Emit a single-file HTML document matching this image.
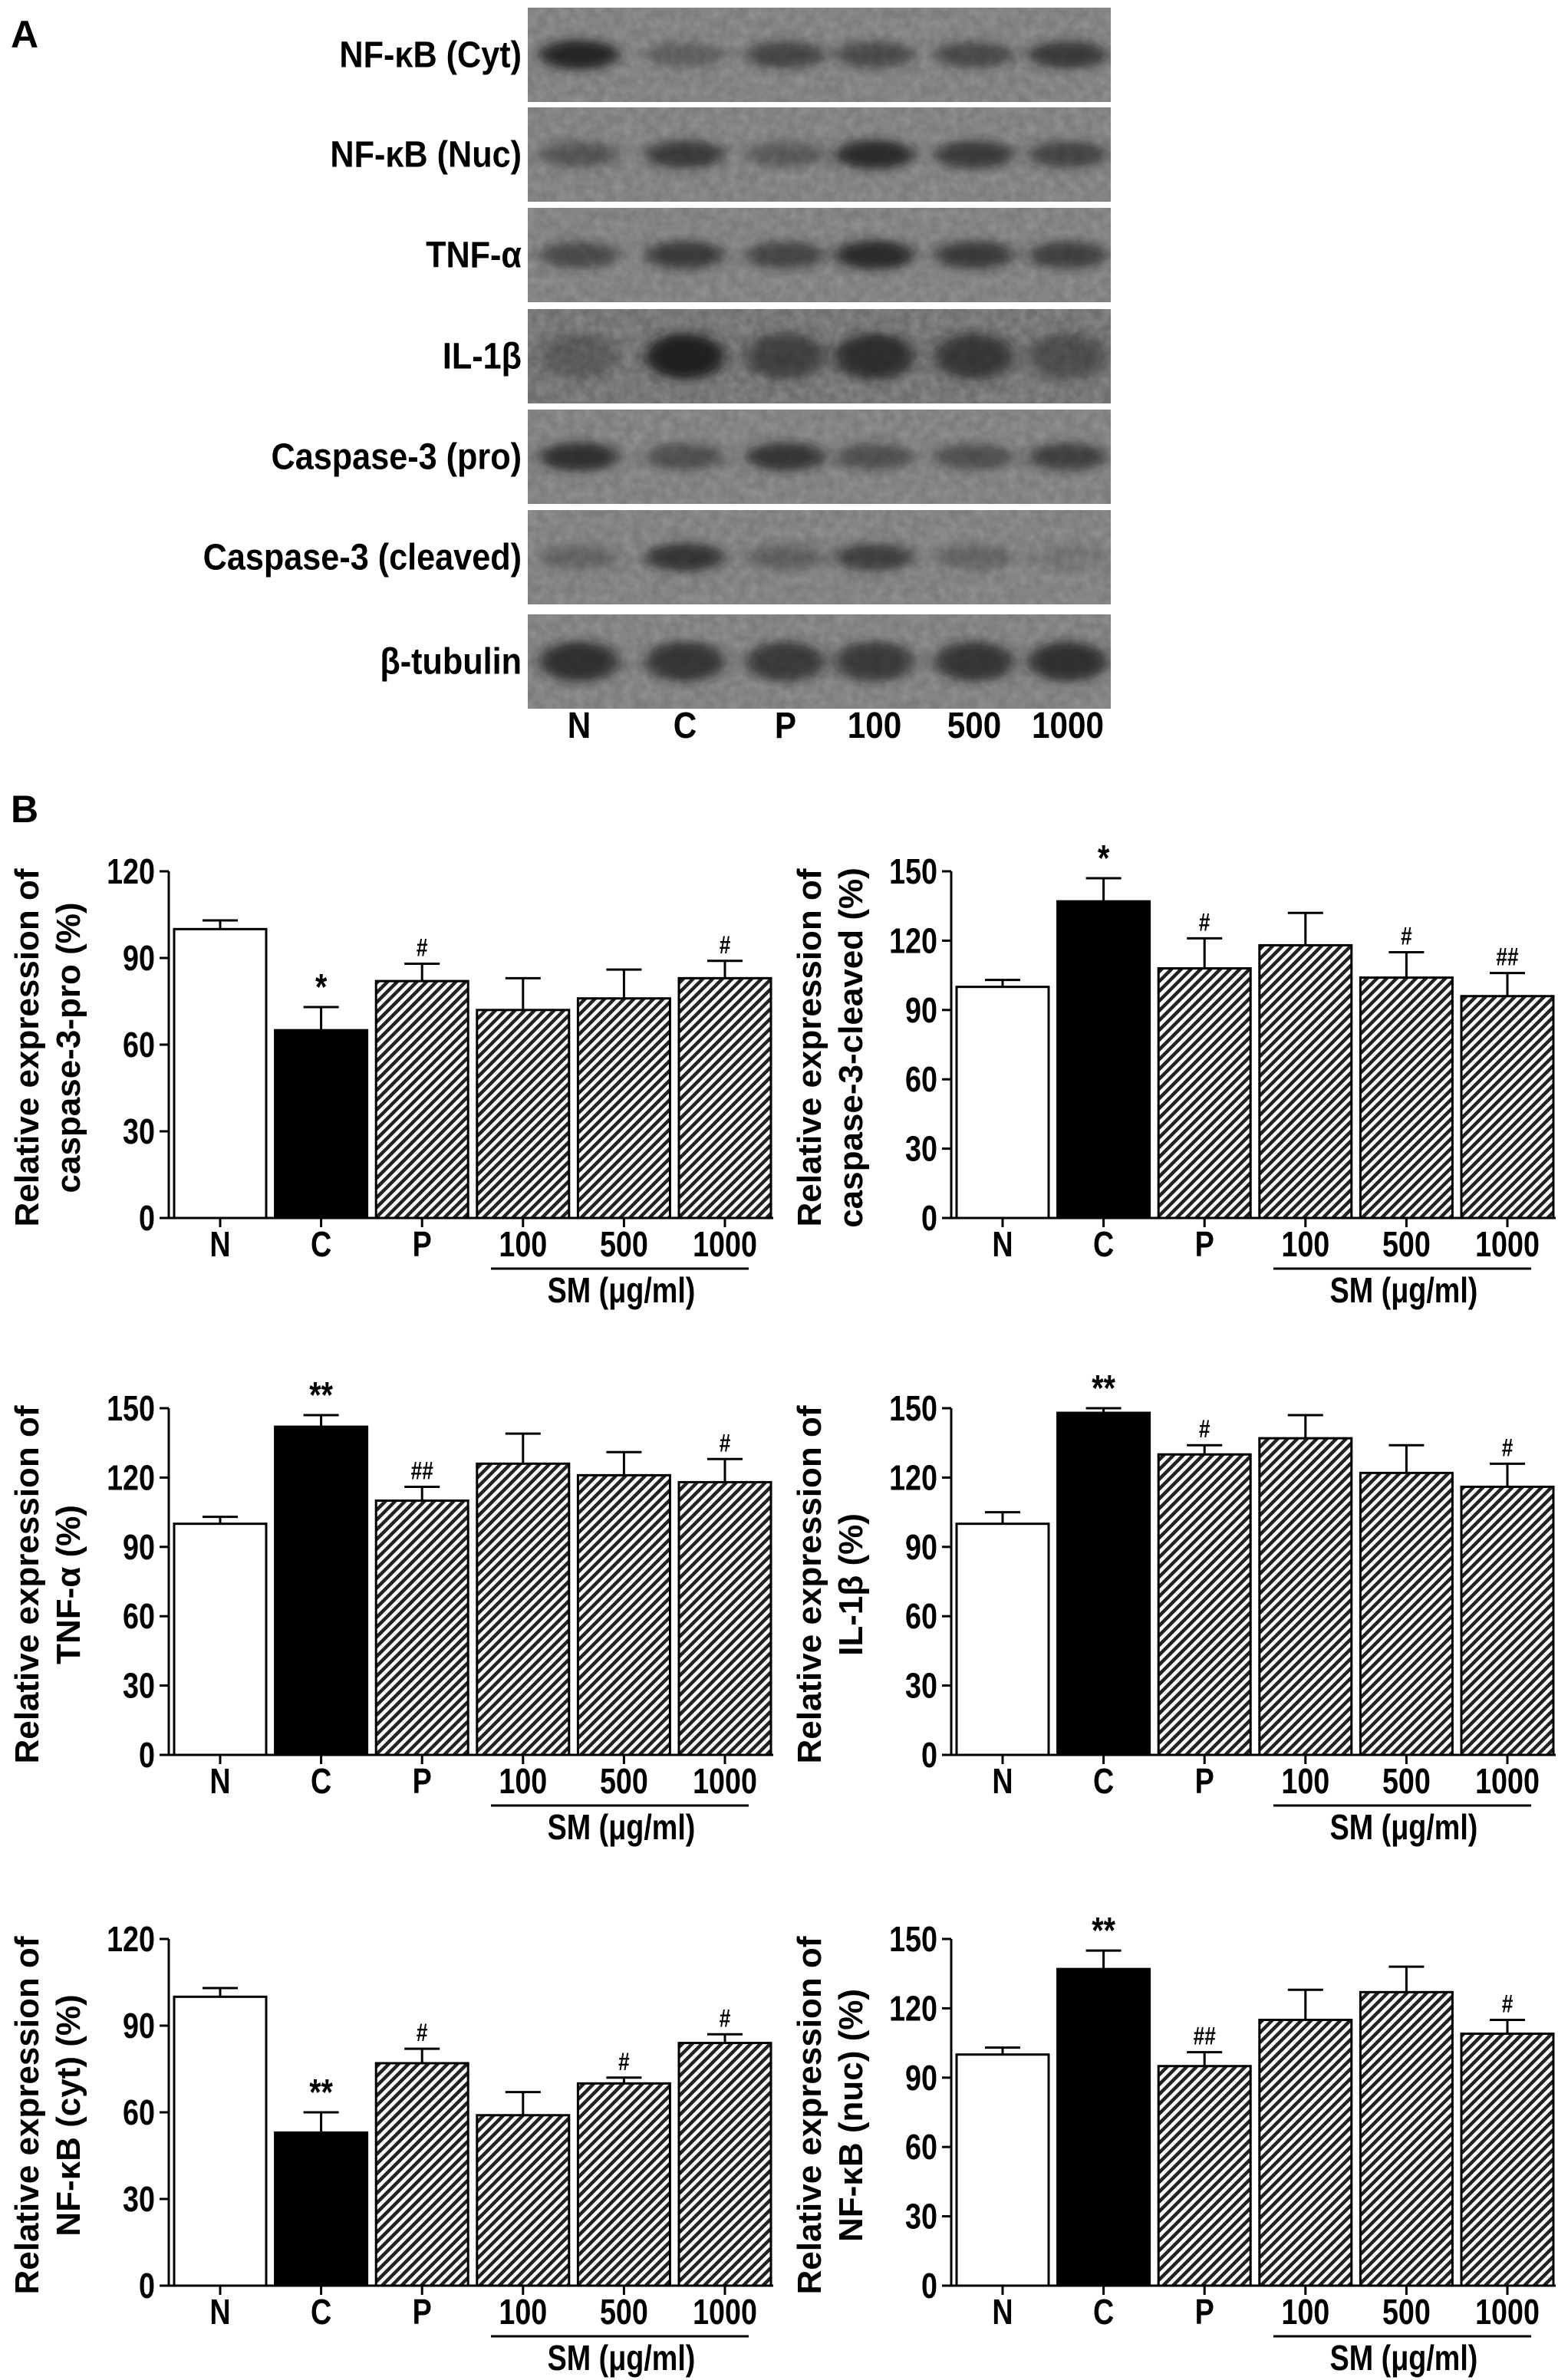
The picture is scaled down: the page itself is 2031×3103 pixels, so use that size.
<!DOCTYPE html>
<html><head><meta charset="utf-8"><style>
html,body{margin:0;padding:0;background:#fff;}
svg{display:block;}
.t{font-family:"Liberation Sans",sans-serif;font-weight:bold;fill:#000;}
.w{font-family:"Liberation Sans",sans-serif;font-weight:bold;fill:#000;}
</style></head><body>
<svg id="fig" width="2031" height="3103" viewBox="0 0 2031 3103" xmlns="http://www.w3.org/2000/svg">
<defs>
<pattern id="hatch" patternUnits="userSpaceOnUse" width="9" height="9" patternTransform="rotate(-45)">
<rect width="9" height="9" fill="#fff"/><rect width="9" height="4.5" fill="#222"/>
</pattern>
<filter id="blur" x="-30%" y="-100%" width="160%" height="300%"><feGaussianBlur stdDeviation="9 6"/></filter>
<filter id="noise" x="0" y="0" width="100%" height="100%"><feTurbulence type="fractalNoise" baseFrequency="0.08" numOctaves="2" seed="3"/><feColorMatrix type="matrix" values="0 0 0 0 0.45  0 0 0 0 0.45  0 0 0 0 0.45  0 0 0 -1.2 0.9"/></filter>
</defs>
<text class="w" x="14" y="62" font-size="50">A</text>
<text class="w" x="14" y="1072" font-size="50">B</text>
<g id="blot"></g>
<g id="charts"></g>
</svg>
<script>
const NS='http://www.w3.org/2000/svg';
function mk(tag,attrs,parent,txt){const e=document.createElementNS(NS,tag);for(const k in attrs)e.setAttribute(k,attrs[k]);if(txt!==undefined)e.textContent=txt;parent.appendChild(e);return e;}
function ct(parent,x,y,anchor,size,str,sx){return mk('text',{x:0,y:0,'text-anchor':anchor,'font-size':size,class:'t',transform:`translate(${x},${y}) scale(${sx||0.82},1)`},parent,str);}

// ---------- Western blot ----------
const blotLabels=['NF-κB (Cyt)','NF-κB (Nuc)','TNF-α','IL-1β','Caspase-3 (pro)','Caspase-3 (cleaved)','β-tubulin'];
const laneLabels=['N','C','P','100','500','1000'];
const bandIntensity=[
 [0.9,0.35,0.6,0.55,0.55,0.7],
 [0.45,0.7,0.4,0.85,0.7,0.6],
 [0.55,0.7,0.6,0.85,0.7,0.65],
 [0.3,0.95,0.6,0.8,0.7,0.45],
 [0.8,0.5,0.75,0.5,0.5,0.65],
 [0.3,0.75,0.35,0.65,0.3,0.15],
 [0.8,0.75,0.7,0.7,0.75,0.8]];
const rowTops=[10,140,271,403,534,665,801];
const rowH=123;
const bx0=688,bw=760;
const laneX=[755,893,1024,1140,1270,1392];
const blot=document.getElementById('blot');
const defs=document.querySelector('defs');
rowTops.forEach((top,r)=>{
  const cp=mk('clipPath',{id:'clip'+r},defs);
  mk('rect',{x:bx0,y:top,width:bw,height:rowH},cp);
  const g=mk('g',{'clip-path':`url(#clip${r})`},blot);
  
  
  mk('rect',{x:bx0,y:top,width:bw,height:rowH,fill:r==3?'#6e6e6e':'#7c7c7c'},g);
  mk('rect',{x:bx0,y:top,width:bw,height:rowH,filter:'url(#noise)',opacity:0.5},g);
  bandIntensity[r].forEach((v,i)=>{
    const b=mk('ellipse',{cx:laneX[i],cy:top+rowH*0.5,rx:52,ry:r==3?30:(r==6?26:14+v*6),fill:'#1a1a1a',opacity:v,filter:'url(#blur)'},g);
    
    
  });
  const l=ct(blot,680,top+rowH*0.5+16,'end',48,blotLabels[r],0.9);
  
  
});
laneLabels.forEach((s,i)=>{
  const l=ct(blot,laneX[i],962,'middle',48,s,0.88);
  
  
});

// ---------- Bar charts ----------
const categories=['N','C','P','100','500','1000'];
const yTitles=['caspase-3-pro (%)','caspase-3-cleaved (%)','TNF-α (%)','IL-1β (%)','NF-κB (cyt) (%)','NF-κB (nuc) (%)'];
const yMaxes=[120,150,150,150,120,150];
const meanCasPro=[100,65,82,72,76,83];
const errCasPro=[103,73,88,83,86,89];
const sigCasPro=['','*','#','','','#'];
const meanCasCl=[100,137,108,118,104,96];
const errCasCl=[103,147,121,132,115,106];
const sigCasCl=['','*','#','','#','##'];
const meanTnf=[100,142,110,126,121,118];
const errTnf=[103,147,116,139,131,128];
const sigTnf=['','**','##','','','#'];
const meanIl=[100,148,130,137,122,116];
const errIl=[105,150,134,147,134,126];
const sigIl=['','**','#','','','#'];
const meanCyt=[100,53,77,59,70,84];
const errCyt=[103,60,82,67,72,87];
const sigCyt=['','**','#','','#','#'];
const meanNuc=[100,137,95,115,127,109];
const errNuc=[103,145,101,128,138,115];
const sigNuc=['','**','##','','','#'];
const tickStep=30;
const allMeans=[meanCasPro,meanCasCl,meanTnf,meanIl,meanCyt,meanNuc];
const allErrs=[errCasPro,errCasCl,errTnf,errIl,errCyt,errNuc];
const allSigs=[sigCasPro,sigCasCl,sigTnf,sigIl,sigCyt,sigNuc];

const charts=document.getElementById('charts');
const colX=[220,1240], rowY0=[1588,2288,2980], plotH=452, barW=120, pitch=131.6;
for(let c=0;c<6;c++){
  const ax=colX[c%2], y0=rowY0[Math.floor(c/2)], ymax=yMaxes[c];
  const yS=v=>y0-v/ymax*plotH;
  const xS=i=>ax+67+i*pitch;
  const g=mk('g',{},charts);
  
  
  const tx=ax-170, ty=y0-plotH/2+4;
  const t1=mk('text',{x:0,y:0,'text-anchor':'middle','font-size':44,class:'w',transform:`translate(${tx},${ty}) rotate(-90)`},g,'Relative expression of');
  
  
  const t2=mk('text',{x:0,y:0,'text-anchor':'middle','font-size':44,class:'w',transform:`translate(${tx+54},${ty}) rotate(-90)`},g,yTitles[c]);
  
  
  allMeans[c].forEach((v,i)=>{
    const fill=i==0?'#fff':(i==1?'#000':'url(#hatch)');
    const b=mk('rect',{x:xS(i)-barW/2,y:yS(v),width:barW,height:y0-yS(v),fill:fill,stroke:'#000','stroke-width':3},g);
    
    
    const e=allErrs[c][i];
    const el=mk('path',{d:`M${xS(i)} ${yS(v)}V${yS(e)}M${xS(i)-23} ${yS(e)}H${xS(i)+23}`,stroke:'#000','stroke-width':3,fill:'none'},g);
    
    
    const s=allSigs[c][i];
    if(s){
      const st=ct(g,xS(i),yS(e)-10,'middle',s.includes('*')?48:32,s);
      
      
    }
    const tk=mk('line',{x1:xS(i),x2:xS(i),y1:y0,y2:y0+12,stroke:'#000','stroke-width':3},g);
    
    
    const lb=ct(g,xS(i),y0+50,'middle',46,categories[i]);
    
    
  });
  const axl=mk('path',{d:`M${ax} ${yS(ymax)}V${y0}H${ax+788}`,stroke:'#000','stroke-width':3,fill:'none'},g);
  
  
  for(let v=0;v<=ymax;v+=tickStep){
    const yt=mk('line',{x1:ax-12,x2:ax,y1:yS(v),y2:yS(v),stroke:'#000','stroke-width':3},g);
    
    
    const yl=ct(g,ax-18,yS(v)+16,'end',46,String(v));
    
    
  }
  const sl=mk('line',{x1:ax+420,x2:ax+756,y1:y0+66,y2:y0+66,stroke:'#000','stroke-width':3},g);
  
  
  const sm=ct(g,ax+590,y0+110,'middle',46,'SM (μg/ml)');
  
  
}
</script>
</body></html>
